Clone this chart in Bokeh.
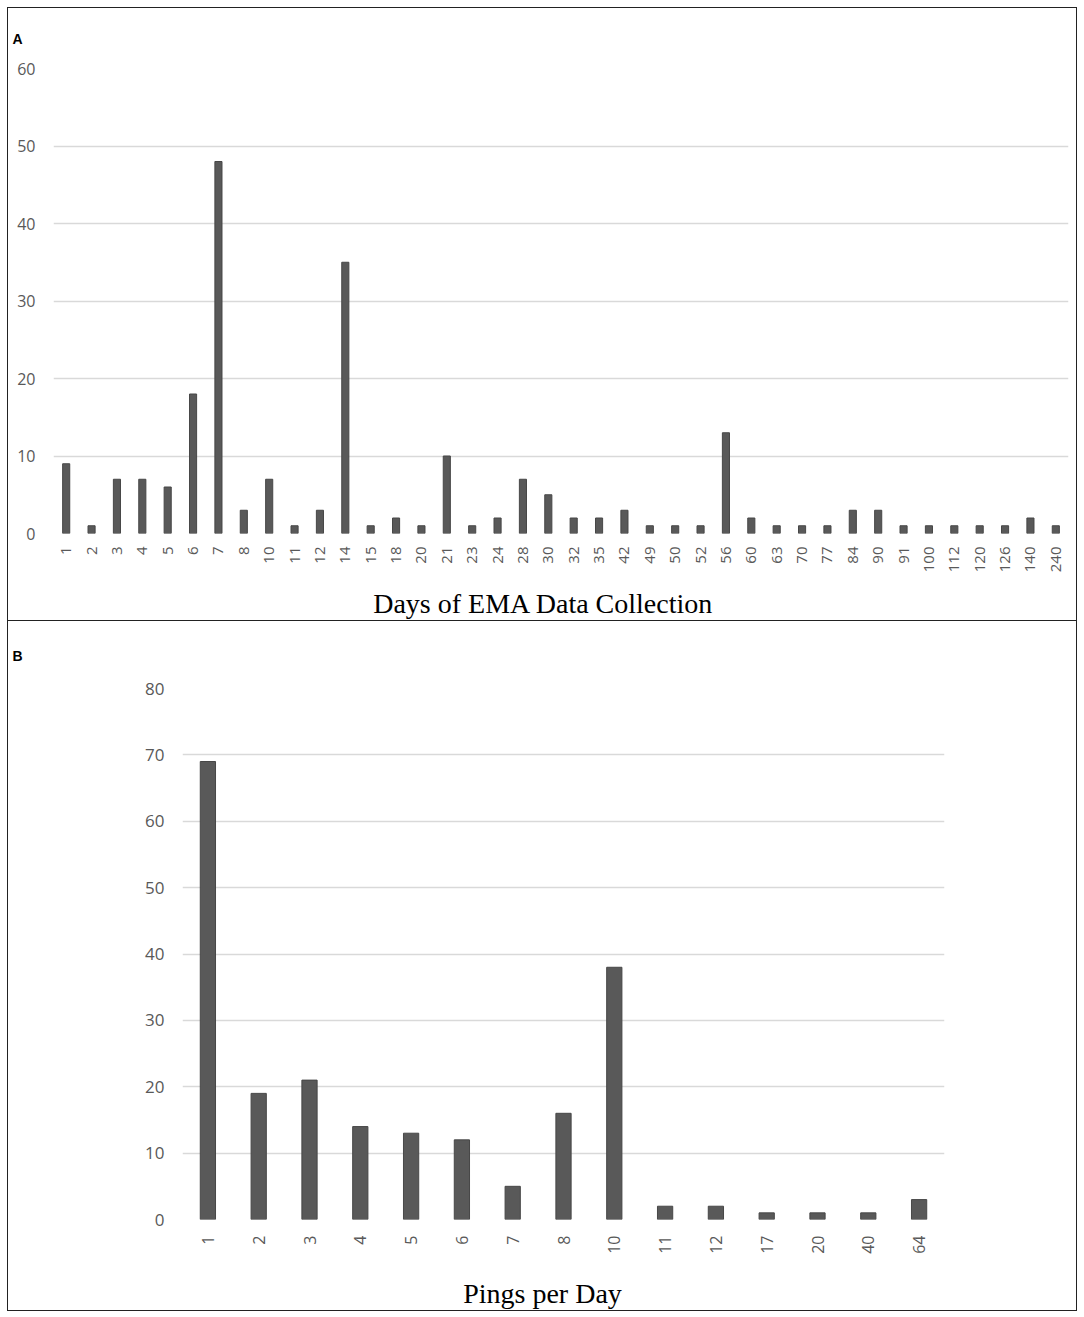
from bokeh.plotting import figure
from bokeh.models import FixedTicker
from bokeh.embed import file_html
from bokeh.resources import INLINE

# Panel A data
days = ["1", "2", "3", "4", "5", "6", "7", "8", "10", "11", "12", "14", "15", "18", "20",
        "21", "23", "24", "28", "30", "32", "35", "42", "49", "50", "52", "56", "60", "63",
        "70", "77", "84", "90", "91", "100", "112", "120", "126", "140", "240"]
days_counts = [9, 1, 7, 7, 6, 18, 48, 3, 7, 1, 3, 35, 1, 2, 1,
               10, 1, 2, 7, 5, 2, 2, 3, 1, 1, 1, 13, 2, 1,
               1, 1, 3, 3, 1, 1, 1, 1, 1, 2, 1]
days_yticks = [0, 10, 20, 30, 40, 50, 60]

# Panel B data
pings = ["1", "2", "3", "4", "5", "6", "7", "8", "10", "11", "12", "17", "20", "40", "64"]
pings_counts = [69, 19, 21, 14, 13, 12, 5, 16, 38, 2, 2, 1, 1, 1, 3]
pings_yticks = [0, 10, 20, 30, 40, 50, 60, 70, 80]

BAR = "#595959"
GRID = "#d9d9d9"
TICK = "#595959"
FONT = "Open Sans"
NB = "\u00a0"


def make_panel(cats, vals, yticks, ymax, title, letter, w, h, ml, mr, mt, mb,
               bar_w, tick_size, label_size, letter_standoff, tick_standoff,
               title_standoff, styles):
    p = figure(x_range=cats, y_range=(0, ymax), width=w, height=h,
               output_backend="svg", toolbar_location=None,
               min_border_left=ml, min_border_right=mr,
               min_border_top=mt, min_border_bottom=mb,
               outline_line_color=None, background_fill_color="white",
               border_fill_color="white")
    p.vbar(x=cats, top=vals, width=bar_w, fill_color=BAR, line_color="#474747",
           line_width=1)
    p.xgrid.grid_line_color = None
    p.ygrid.grid_line_color = GRID
    p.ygrid.grid_line_width = 1.3
    p.yaxis.ticker = FixedTicker(ticks=yticks)
    for ax in (p.xaxis, p.yaxis):
        ax.axis_line_color = None
        ax.major_tick_line_color = None
        ax.minor_tick_line_color = None
        ax.major_label_text_color = TICK
        ax.major_label_text_font = FONT
    p.yaxis.major_label_text_font_size = f"{label_size}px"
    p.xaxis.major_label_text_font_size = f"{tick_size}px"
    p.xaxis.major_label_orientation = 1.5708
    p.xaxis.major_label_standoff = tick_standoff
    p.yaxis.major_label_standoff = 12
    p.xaxis.axis_label = title
    p.xaxis.axis_label_text_font = "Liberation Serif"
    p.xaxis.axis_label_text_font_style = "normal"
    p.xaxis.axis_label_text_font_size = "28px"
    p.xaxis.axis_label_text_color = "black"
    p.xaxis.axis_label_standoff = title_standoff
    p.x_range.range_padding = 0
    p.styles = styles
    p.title.text = letter
    p.title.align = "left"
    p.title.vertical_align = "top"
    p.title.standoff = letter_standoff
    p.title.offset = -(ml - 4)
    p.title.text_font = "Liberation Sans"
    p.title.text_font_style = "bold"
    p.title.text_font_size = "14px"
    p.title.text_color = "black"
    return p


pa = make_panel(days, days_counts, days_yticks, 60,
                "Days of EMA Data Collection" + NB * 5, "A",
                1070, 614, 45, 10, 60, 87, 0.28, 15, 16, 40, 7, 13,
                {"border": "1.5px solid #222222", "box-sizing": "border-box",
                 "margin-left": "7px", "margin-top": "7px"})
pb = make_panel(pings, pings_counts, pings_yticks, 80,
                "Pings per Day" + NB * 6, "B",
                1070, 690, 174, 134, 67, 91, 0.3, 16, 17, 46, 10, 21,
                {"border": "1.5px solid #222222", "border-top": "0px",
                 "box-sizing": "border-box", "margin-left": "7px"})

open("out.html", "w").write(file_html([pa, pb], INLINE))
